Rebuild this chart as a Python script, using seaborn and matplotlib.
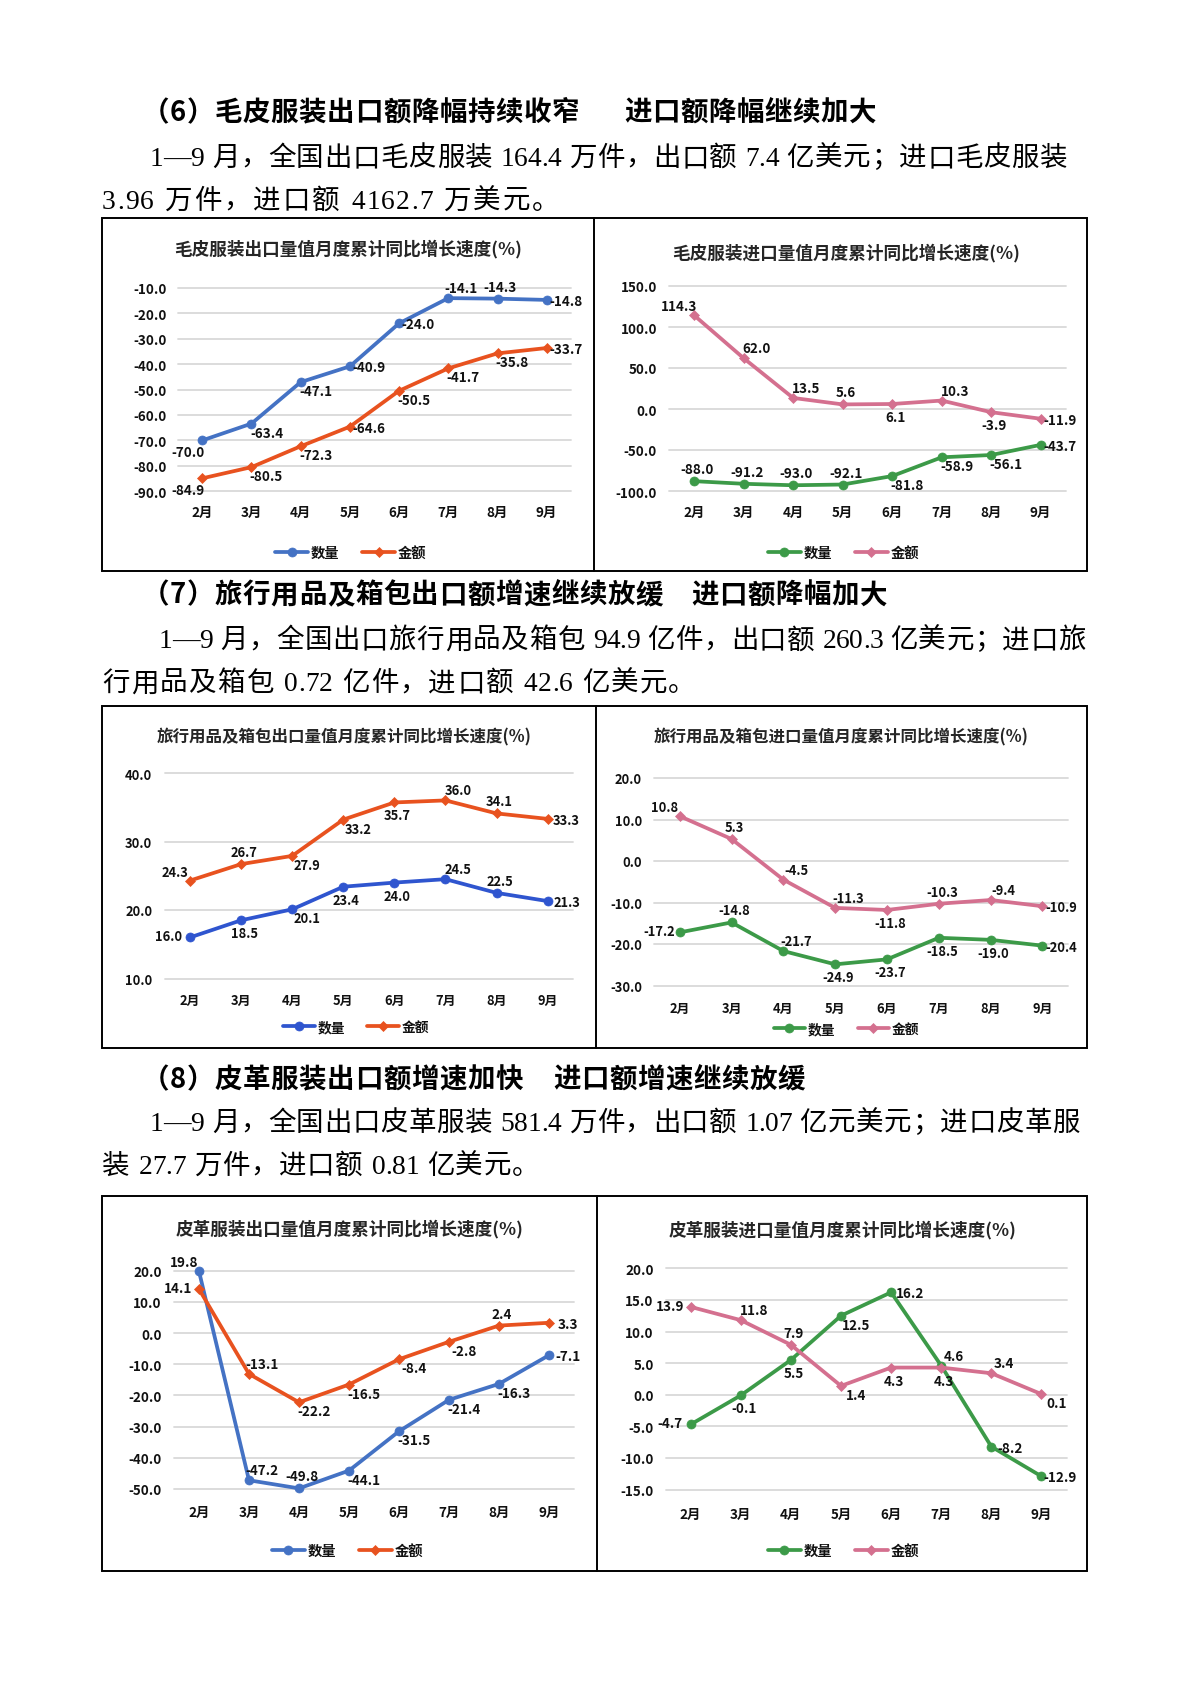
import numpy as np
import pandas as pd
import matplotlib
matplotlib.use("Agg")
import matplotlib.pyplot as plt
import seaborn as sns
from matplotlib.patches import Rectangle
from matplotlib.lines import Line2D
from matplotlib.font_manager import FontProperties, findfont, get_font

# ---------------- data ----------------
months = ['2月', '3月', '4月', '5月', '6月', '7月', '8月', '9月']
series_names = ['数量', '金额']

fur_exp_qty = [-70.0, -63.4, -47.1, -40.9, -24.0, -14.1, -14.3, -14.8]
fur_exp_val = [-84.9, -80.5, -72.3, -64.6, -50.5, -41.7, -35.8, -33.7]
fur_imp_qty = [-88.0, -91.2, -93.0, -92.1, -81.8, -58.9, -56.1, -43.7]
fur_imp_val = [114.3, 62.0, 13.5, 5.6, 6.1, 10.3, -3.9, -11.9]
bag_exp_qty = [16.0, 18.5, 20.1, 23.4, 24.0, 24.5, 22.5, 21.3]
bag_exp_val = [24.3, 26.7, 27.9, 33.2, 35.7, 36.0, 34.1, 33.3]
bag_imp_qty = [-17.2, -14.8, -21.7, -24.9, -23.7, -18.5, -19.0, -20.4]
bag_imp_val = [10.8, 5.3, -4.5, -11.3, -11.8, -10.3, -9.4, -10.9]
lea_exp_qty = [19.8, -47.2, -49.8, -44.1, -31.5, -21.4, -16.3, -7.1]
lea_exp_val = [14.1, -13.1, -22.2, -16.5, -8.4, -2.8, 2.4, 3.3]
lea_imp_qty = [-4.7, -0.1, 5.5, 12.5, 16.2, 4.6, -8.2, -12.9]
lea_imp_val = [13.9, 11.8, 7.9, 1.4, 4.3, 4.3, 3.4, 0.1]

fur_exp_ticks = [-90, -80, -70, -60, -50, -40, -30, -20, -10]
fur_imp_ticks = [-100, -50, 0, 50, 100, 150]
bag_exp_ticks = [10, 20, 30, 40]
bag_imp_ticks = [-30, -20, -10, 0, 10, 20]
lea_exp_ticks = [-50, -40, -30, -20, -10, 0, 10, 20]
lea_imp_ticks = [-15, -10, -5, 0, 5, 10, 15, 20]

titles = [
    '毛皮服装出口量值月度累计同比增长速度(%)',
    '毛皮服装进口量值月度累计同比增长速度(%)',
    '旅行用品及箱包出口量值月度累计同比增长速度(%)',
    '旅行用品及箱包进口量值月度累计同比增长速度(%)',
    '皮革服装出口量值月度累计同比增长速度(%)',
    '皮革服装进口量值月度累计同比增长速度(%)',
]

headings = [
    ('（6）毛皮服装出口额降幅持续收窄', '进口额降幅继续加大'),
    ('（7）旅行用品及箱包出口额增速继续放缓', '进口额降幅加大'),
    ('（8）皮革服装出口额增速加快', '进口额增速继续放缓'),
]
paragraphs = [
    ('1—9 月，全国出口毛皮服装 164.4 万件，出口额 7.4 亿美元；进口毛皮服装',
     '3.96 万件，进口额 4162.7 万美元。'),
    ('1—9 月，全国出口旅行用品及箱包 94.9 亿件，出口额 260.3 亿美元；进口旅',
     '行用品及箱包 0.72 亿件，进口额 42.6 亿美元。'),
    ('1—9 月，全国出口皮革服装 581.4 万件，出口额 1.07 亿元美元；进口皮革服',
     '装 27.7 万件，进口额 0.81 亿美元。'),
]

# ---------------- style ----------------
W, H = 1190, 1683
DPI = 100
sns.set_theme(style="white")
CJK = ['Noto Sans CJK SC', 'DejaVu Sans']
BODY = ['Liberation Serif', 'Noto Sans CJK SC']
plt.rcParams['font.family'] = CJK
plt.rcParams['axes.unicode_minus'] = False

BLUE = '#4472C4'
BLUE2 = '#2F55CF'
ORANGE = '#E8521F'
GREEN = '#3C9A48'
PINK = '#D4708F'
GRID = '#D9D9D9'
TXT = '#111111'

# label placement codes -> pixel offsets (right, down)
OFFS = {'r': (19, 1), 'br': (15, 9), 'b': (3, 13), 'bl': (-14, 12),
        'a': (3, -12), 'ar': (13, -10), 'al': (-15, -9), 'l': (-21, -1)}

fig = plt.figure(figsize=(W / DPI, H / DPI), dpi=DPI)
fig.patch.set_facecolor('white')


def fx(x):
    return x / W


def fy(y):
    return 1 - y / H


def px2pt(p):
    return p * 72 / DPI


def draw_chart(rect, ticks, qty, val, qcolor, vcolor, qcodes, vcodes,
               title, title_pos, legend_pos, ylab_px, xlab_px,
               fs=9.7, title_fs=12.7, leg_fs=10.3):
    l, r, t, b = rect
    ax = fig.add_axes([fx(l), fy(b), (r - l) / W, (b - t) / H])
    xi = np.arange(len(months))
    df = pd.DataFrame({'idx': xi, series_names[0]: qty, series_names[1]: val})
    sns.lineplot(data=df, x='idx', y=series_names[0], ax=ax, color=qcolor,
                 linewidth=2.7, marker='o', markersize=6.5,
                 markeredgecolor=qcolor, markeredgewidth=0.5, sort=False)
    hq = ax.lines[-1]
    sns.lineplot(data=df, x='idx', y=series_names[1], ax=ax, color=vcolor,
                 linewidth=2.7, marker='D', markersize=4.6,
                 markeredgecolor=vcolor, markeredgewidth=0.5, sort=False)
    hv = ax.lines[-1]
    for ln in (hq, hv):
        ln.set_clip_on(False)
    ax.set_xlim(-0.5, len(months) - 0.5)
    ax.set_ylim(ticks[0], ticks[-1])
    ax.set_yticks(ticks)
    ax.set_yticklabels([f'{v:.1f}' for v in ticks], fontsize=fs,
                       fontweight='bold', color=TXT)
    ax.set_xticks(xi)
    ax.set_xticklabels(months, fontsize=fs, fontweight='bold', color=TXT)
    ax.tick_params(axis='y', length=0, pad=px2pt(ylab_px))
    ax.tick_params(axis='x', length=0, pad=px2pt(xlab_px))
    ax.set_xlabel('')
    ax.set_ylabel('')
    for s in ax.spines.values():
        s.set_visible(False)
    ax.yaxis.grid(True, color=GRID, linewidth=1.3)
    ax.xaxis.grid(False)
    ax.set_axisbelow(True)
    ax.set_facecolor('none')
    for gl in ax.yaxis.get_gridlines():
        gl.set_clip_on(False)
    # data labels
    for vals, codes in ((qty, qcodes), (val, vcodes)):
        for i, (v, c) in enumerate(zip(vals, codes)):
            dx, dy = OFFS[c]
            ax.annotate(f'{v:.1f}', (xi[i], v), xytext=(dx, -dy),
                        textcoords='offset pixels', ha='center', va='center',
                        fontsize=fs, fontweight='bold', color=TXT,
                        annotation_clip=False, zorder=5)
    # title
    em = title_fs * DPI / 72
    fig.text(fx(title_pos[0]), fy(title_pos[1] + 0.38 * em), title, ha='center',
             va='baseline', fontsize=title_fs, fontweight='bold', color='#262626')
    # legend
    leg = ax.legend([hq, hv], series_names, loc='center',
                    bbox_to_anchor=(fx(legend_pos[0]), fy(legend_pos[1])),
                    bbox_transform=fig.transFigure, ncol=2, frameon=False,
                    prop={'size': leg_fs, 'weight': 'bold', 'family': CJK},
                    handlelength=2.3, handletextpad=0.2,
                    columnspacing=1.6, numpoints=1, borderpad=0, borderaxespad=0)
    for txt in leg.get_texts():
        txt.set_color(TXT)
    return ax


# row 1
draw_chart((177.7, 571.3, 288.7, 492.3), fur_exp_ticks, fur_exp_qty, fur_exp_val,
           BLUE, ORANGE,
           ['bl', 'br', 'br', 'r', 'r', 'ar', 'a', 'r'],
           ['bl', 'br', 'br', 'r', 'br', 'br', 'br', 'r'],
           titles[0], (348, 248), (351, 554), 11, 13.5)
draw_chart((669.3, 1065.5, 287, 492), fur_imp_ticks, fur_imp_qty, fur_imp_val,
           GREEN, PINK,
           ['a', 'a', 'a', 'a', 'br', 'br', 'br', 'r'],
           ['al', 'ar', 'ar', 'a', 'b', 'ar', 'b', 'r'],
           titles[1], (846.5, 252), (843.5, 554), 12.3, 14)
# row 2 (slightly smaller type in the reference)
draw_chart((164.5, 573.2, 774, 979.5), bag_exp_ticks, bag_exp_qty, bag_exp_val,
           BLUE2, ORANGE,
           ['l', 'b', 'br', 'b', 'b', 'ar', 'a', 'r'],
           ['al', 'a', 'br', 'br', 'b', 'ar', 'a', 'r'],
           titles[2], (344, 736), (356, 1028), 12.2, 14,
           fs=9.3, title_fs=11.9, leg_fs=9.9)
draw_chart((653.8, 1068.4, 779, 986.5), bag_imp_ticks, bag_imp_qty, bag_imp_val,
           GREEN, PINK,
           ['l', 'a', 'ar', 'b', 'b', 'b', 'b', 'r'],
           ['al', 'a', 'ar', 'ar', 'b', 'a', 'ar', 'r'],
           titles[3], (841.5, 736), (846.5, 1030), 11.8, 15,
           fs=9.3, title_fs=11.9, leg_fs=9.9)
# row 3
draw_chart((174, 574, 1271.7, 1490), lea_exp_ticks, lea_exp_qty, lea_exp_val,
           BLUE, ORANGE,
           ['al', 'ar', 'a', 'br', 'br', 'br', 'br', 'r'],
           ['l', 'ar', 'br', 'br', 'br', 'br', 'a', 'r'],
           titles[4], (349.5, 1227.3), (347.5, 1551.7), 12.3, 16)
draw_chart((665.6, 1066.5, 1269.3, 1490.6), lea_imp_ticks, lea_imp_qty, lea_imp_val,
           GREEN, PINK,
           ['l', 'b', 'b', 'br', 'r', 'ar', 'r', 'r'],
           ['l', 'ar', 'a', 'br', 'b', 'b', 'ar', 'br'],
           titles[5], (843, 1228.3), (843.5, 1551.7), 11.9, 17)

# boxes
boxes = [(102, 1087, 219, 572, 594), (102, 1087, 707.3, 1048.5, 595.7),
         (102, 1087, 1197.3, 1571.7, 596.5)]
for l, r, t, b, d in boxes:
    fig.add_artist(Rectangle((fx(l), fy(b)), (r - l) / W, (b - t) / H,
                             transform=fig.transFigure, fill=False,
                             lw=1.4, ec='black', zorder=10))
    fig.add_artist(Line2D([fx(d), fx(d)], [fy(t), fy(b)], transform=fig.transFigure,
                          lw=1.4, color='black', zorder=10))


# ---------------- document text (grid-style layout) ----------------
def is_cjk(ch):
    o = ord(ch)
    return (0x2E80 <= o <= 0x9FFF) or (0x3000 <= o <= 0x303F) or (0xFF00 <= o <= 0xFFEF)


def glyph_advance(ch, families, weight, size):
    for fam in families:
        f = get_font(findfont(FontProperties(family=fam, weight=weight)))
        if f.get_char_index(ord(ch)):
            f.set_size(size, DPI)
            g = f.load_char(ord(ch))
            return g.linearHoriAdvance / 65536.0
    return size * DPI / 72 * 0.5


def layout_line(text, x0, y_center, size, families, weight, cjk_adv,
                x_end=None, stretch=0.0):
    em = size * DPI / 72
    items = []
    for ch in text:
        if ch == ' ':
            items.append((None, 0.25 * em + 1.5))
        elif is_cjk(ch):
            items.append((ch, cjk_adv))
        else:
            items.append((ch, glyph_advance(ch, families, weight, size)))
    natural = sum(a for _, a in items)
    extra = 0.0
    if len(items) > 1:
        if x_end is not None:
            extra = (x_end - x0 - natural) / (len(items) - 1)
        else:
            extra = stretch / (len(items) - 1)
    x = x0
    yb = y_center + 0.38 * em
    for ch, a in items:
        if ch is not None:
            fig.text(fx(x), fy(yb), ch, ha='left', va='baseline', fontsize=size,
                     fontweight=weight, family=families, color='black')
        x += a + extra


BODY_FS = 19.8
GRID_ADV = 28.5
HEAD_ADV = 28.1
head_y = [110.4, 592.8, 1077.4]
head_x2 = [624, 691, 553]
para_y = [(155.4, 198.3), (637.8, 680.7), (1120.2, 1163.1)]
para_x1 = [150, 159, 150]
para_end = [1068, 1087, 1081]
line2_stretch = [25, 9, -5]
for k in range(3):
    layout_line(headings[k][0], 142, head_y[k], BODY_FS, CJK, 'bold', HEAD_ADV)
    layout_line(headings[k][1], head_x2[k], head_y[k], BODY_FS, CJK, 'bold', HEAD_ADV)
    layout_line(paragraphs[k][0], para_x1[k], para_y[k][0], BODY_FS, BODY, 'normal',
                GRID_ADV, x_end=para_end[k])
    layout_line(paragraphs[k][1], 102, para_y[k][1], BODY_FS, BODY, 'normal', GRID_ADV,
                stretch=line2_stretch[k])

fig.savefig('out.png', dpi=DPI, facecolor='white')
